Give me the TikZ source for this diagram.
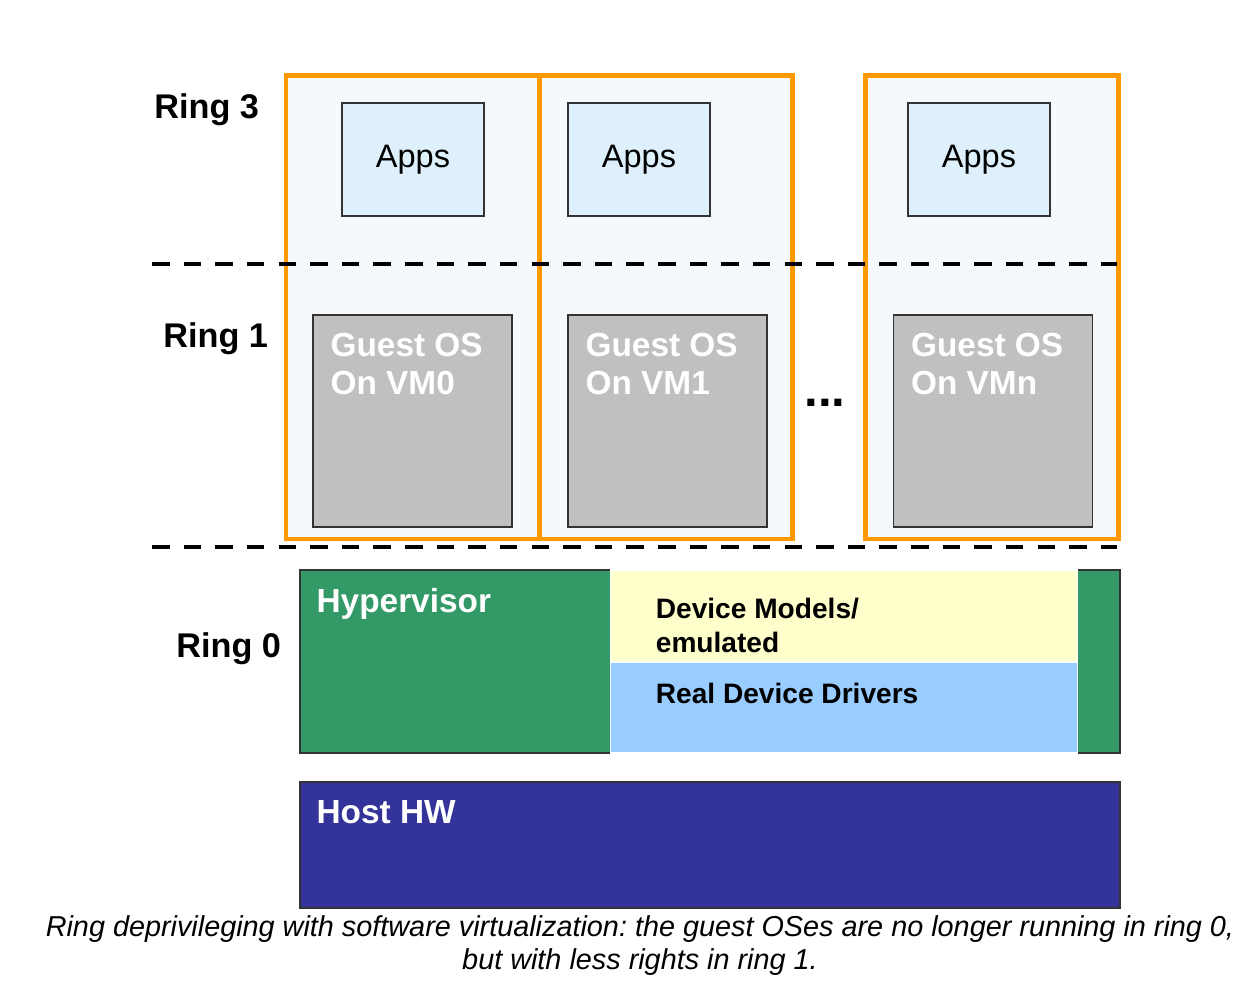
\documentclass[tikz,border=0pt]{standalone}
\usepackage{fontspec}
\setmainfont{Liberation Sans}
\usetikzlibrary{positioning}
\definecolor{vmorange}{HTML}{FF9900}
\definecolor{vmfill}{HTML}{F5F9FB}
\definecolor{appsfill}{HTML}{DDF0FB}
\definecolor{guestfill}{HTML}{C0C0C0}
\definecolor{boxline}{HTML}{333333}
\definecolor{hypgreen}{HTML}{339966}
\definecolor{devyellow}{HTML}{FFFFCC}
\definecolor{drvblue}{HTML}{99CCFF}
\definecolor{hostblue}{HTML}{333399}
\frenchspacing
\begin{document}
\begin{tikzpicture}[
        x=0.02cm, y=-0.02cm,
        vmframe/.style={rectangle, draw=vmorange, fill=vmfill, line width=2.8pt, minimum width=5.06cm, minimum height=9.28cm, inner sep=0pt},
        apps/.style={rectangle, draw=boxline, fill=appsfill, line width=0.9pt, minimum width=2.84cm, minimum height=2.26cm, font=\fontsize{18.5}{22}\selectfont},
        guest/.style={rectangle, draw=boxline, fill=guestfill, line width=0.9pt, minimum width=3.98cm, minimum height=4.24cm, inner sep=0pt},
        whitetext/.style={anchor=north west, inner sep=0pt, align=left, text=white, font=\fontsize{19}{21.6}\selectfont\bfseries},
        devtext/.style={anchor=north west, inner sep=0pt, align=left, font=\fontsize{16}{19.4}\selectfont\bfseries},
        ringlabel/.style={anchor=base west, inner sep=0pt, font=\fontsize{19.5}{22}\selectfont\bfseries},
        ringline/.style={line width=2.2pt, dash pattern=on 10pt off 8pt},
        caption/.style={align=center, font=\fontsize{16.4}{18.8}\selectfont\itshape}
    ]
        \useasboundingbox (0,0) rectangle (1250,988);

        % VM frames
        \node[vmframe] (vm0) at (412.5,307) {};
        \node[vmframe] (vm1) at (666,307) {};
        \node[vmframe] (vmn) at (992,307) {};

        % Ring borders
        \coordinate (r3l) at (152,264);
        \coordinate (r3r) at (1117,264);
        \coordinate (r1l) at (152,547);
        \coordinate (r1r) at (1117,547);
        \draw[ringline] (r3l) -- (r3r);
        \draw[ringline] (r1l) -- (r1r);

        % Apps
        \node[apps] (app0) at (413,159.5) {Apps};
        \node[apps] (app1) at (639,159.5) {Apps};
        \node[apps] (appn) at (979,159.5) {Apps};

        % Guest OSes
        \node[guest] (g0) at (412.5,421) {};
        \node[guest] (g1) at (667.5,421) {};
        \node[guest] (gn) at (993,421) {};
        \node[whitetext, below right=0.38cm and 0.36cm of g0.north west] (g0txt) {Guest OS\\On VM0};
        \node[whitetext, below right=0.38cm and 0.36cm of g1.north west] (g1txt) {Guest OS\\On VM1};
        \node[whitetext, below right=0.38cm and 0.36cm of gn.north west] (gntxt) {Guest OS\\On VMn};

        \node[font=\fontsize{28}{30}\selectfont\bfseries, inner sep=0pt] (dots) at (825,403) {...};

        % Ring 0
        \node[rectangle, draw=boxline, fill=hypgreen, line width=0.9pt, minimum width=16.4cm, minimum height=3.66cm, inner sep=0pt] (hyp) at (710,661.5) {};
        \node[rectangle, draw=white, fill=devyellow, line width=0.6pt, minimum width=9.36cm, minimum height=1.84cm, inner sep=0pt] (devmod) at (844,616) {};
        \node[rectangle, draw=white, fill=drvblue, line width=0.6pt, minimum width=9.36cm, minimum height=1.82cm, inner sep=0pt] (drivers) at (844,707.5) {};
        \node[whitetext, below right=0.38cm and 0.34cm of hyp.north west] (hyptxt) {Hypervisor};
        \node[devtext, below right=0.56cm and 0.92cm of devmod.north west] (devtxt) {Device Models/\\emulated};
        \node[devtext, below right=0.42cm and 0.92cm of drivers.north west] (drvtxt) {Real Device Drivers};

        % Host HW
        \node[rectangle, draw=boxline, fill=hostblue, line width=0.9pt, minimum width=16.4cm, minimum height=2.52cm, inner sep=0pt] (host) at (710,845) {};
        \node[whitetext, below right=0.38cm and 0.34cm of host.north west] (hosttxt) {Host HW};

        % Ring labels
        \node[ringlabel] (ring3) at (154,118) {Ring 3};
        \node[ringlabel] (ring1) at (163,347) {Ring 1};
        \node[ringlabel] (ring0) at (176,657) {Ring 0};

        % Caption
        \node[caption] (cap) at (640,946) {Ring deprivileging with software virtualization: the guest OSes are no longer running in ring 0,\\but with less rights in ring 1.};
    \end{tikzpicture}
\end{document}
